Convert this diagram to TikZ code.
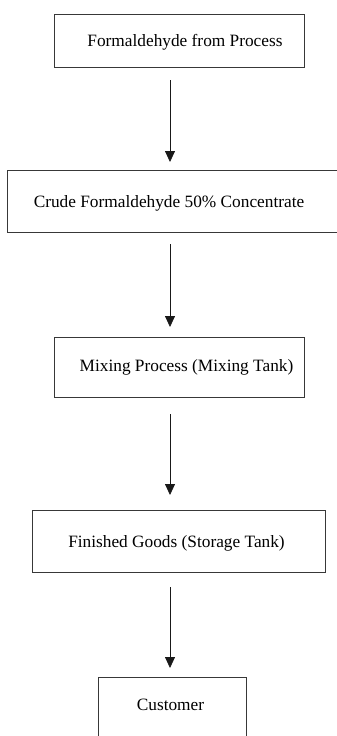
\documentclass[tikz,border=0pt]{standalone}
\usepackage{fontspec}
\setmainfont{Liberation Serif}
\usetikzlibrary{arrows.meta}
\begin{document}
\begin{tikzpicture}[x=1pt,y=-1pt,
  stagebox/.style={draw=black!78,line width=1.3pt,inner sep=0pt,anchor=north west},
  stagetext/.style={inner sep=0pt,font=\fontsize{17.3}{20}\selectfont,text=black},
  flow/.style={draw=black!90,line width=0.8pt,-{Triangle[width=10pt,length=11pt]}}]
\useasboundingbox (0,0) rectangle (337,736);
\clip (0,0) rectangle (337,736);
% process stages
\node[stagebox,minimum width=250pt,minimum height=53pt] (b1) at (54,14) {};
\node[stagebox,minimum width=345pt,minimum height=62pt] (b2) at (7,170) {};
\node[stagebox,minimum width=250pt,minimum height=60pt] (b3) at (54,337) {};
\node[stagebox,minimum width=293pt,minimum height=62pt] (b4) at (32,510) {};
\node[stagebox,minimum width=148pt,minimum height=80pt] (b5) at (98,677) {};
% stage labels
\node[stagetext] (t1) at (185,42) {Formaldehyde from Process};
\node[stagetext] (t2) at (169,203) {Crude Formaldehyde 50\% Concentrate};
\node[stagetext] (t3) at (186.5,367) {Mixing Process (Mixing Tank)};
\node[stagetext] (t4) at (176.5,543) {Finished Goods (Storage Tank)};
\node[stagetext] (t5) at (170.5,705) {Customer};
% vertical flow line
\coordinate (axis) at (170,0);
\draw[flow,shorten <=12pt,shorten >=8pt] (b1.south -| axis) -- (b2.north -| axis);
\draw[flow,shorten <=11pt,shorten >=10pt] (b2.south -| axis) -- (b3.north -| axis);
\draw[flow,shorten <=16pt,shorten >=15pt] (b3.south -| axis) -- (b4.north -| axis);
\draw[flow,shorten <=14pt,shorten >=9pt] (b4.south -| axis) -- (b5.north -| axis);
\end{tikzpicture}
\end{document}
